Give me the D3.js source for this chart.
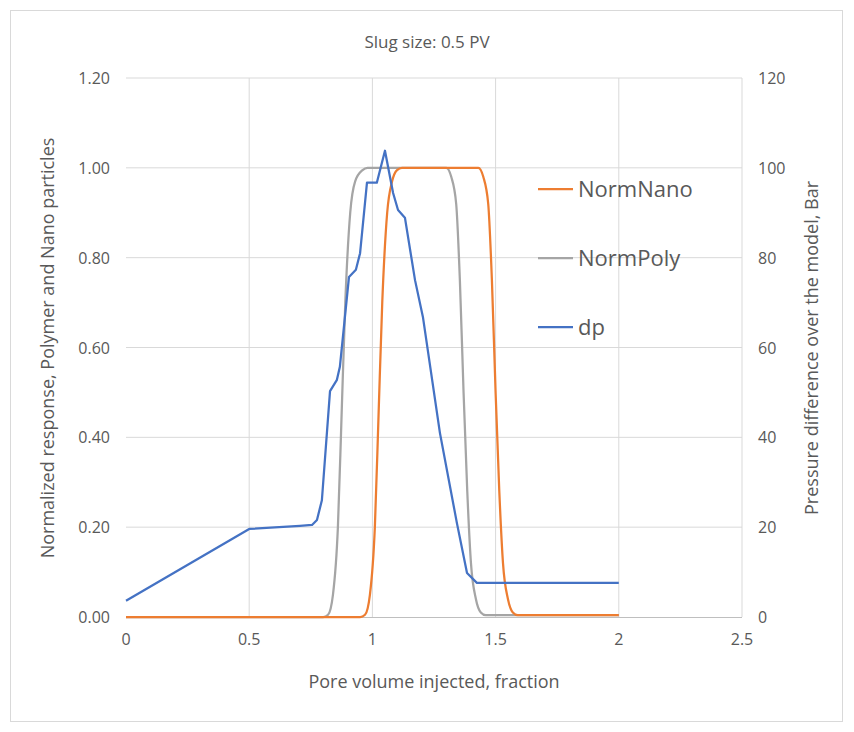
<html>
<head>
<meta charset="utf-8" />
<script src="https://d3js.org/d3.v7.min.js"></script>
</head>
<body style="margin:0;background:#fff">
<svg width="854" height="732" font-family="'Open Sans', sans-serif"></svg>
<script>
// data
var polyX = [0, 0.8, 0.82, 0.84, 0.86, 0.875, 0.89, 0.91, 0.93, 0.96, 0.98, 1.3, 1.32, 1.34, 1.355, 1.37, 1.385, 1.4, 1.42, 1.44, 1.46, 2.0];
var polyY = [0, 0, 0.005, 0.05, 0.2, 0.45, 0.7, 0.9, 0.97, 0.995, 1, 1, 0.98, 0.92, 0.75, 0.5, 0.28, 0.12, 0.04, 0.01, 0.004, 0.004];
var nanoX = [0, 0.95, 0.97, 0.99, 1.01, 1.025, 1.04, 1.06, 1.08, 1.1, 1.12, 1.43, 1.45, 1.47, 1.485, 1.5, 1.515, 1.53, 1.55, 1.57, 1.59, 2.0];
var nanoY = [0, 0, 0.005, 0.05, 0.2, 0.45, 0.7, 0.9, 0.97, 0.995, 1, 1, 0.98, 0.92, 0.75, 0.5, 0.28, 0.12, 0.04, 0.01, 0.004, 0.004];
var dpX = [0, 0.5, 0.706, 0.755, 0.775, 0.795, 0.828, 0.856, 0.868, 0.905, 0.933, 0.95, 0.978, 1.018, 1.051, 1.084, 1.104, 1.132, 1.173, 1.205, 1.274, 1.343, 1.384, 1.424, 2.0];
var dpY = [3.6, 19.6, 20.3, 20.5, 21.6, 26, 50.3, 52.8, 55.7, 75.7, 77.3, 81, 96.7, 96.7, 103.8, 94.4, 90.6, 88.9, 75, 66.8, 41, 20.9, 9.8, 7.6, 7.6];
var xTicks = [0, 0.5, 1, 1.5, 2, 2.5];
var yTicks = [0, 0.2, 0.4, 0.6, 0.8, 1.0, 1.2];
var y2Ticks = [0, 20, 40, 60, 80, 100, 120];

var svg = d3.select("svg");
var grey = "#595959";

svg.append("rect").attr("x", 10.5).attr("y", 10.5).attr("width", 832).attr("height", 711)
  .attr("fill", "none").attr("stroke", "#d9d9d9");

var x = d3.scaleLinear().domain([0, 2.5]).range([126, 742]);
var y = d3.scaleLinear().domain([0, 1.2]).range([617, 78]);
var y2 = d3.scaleLinear().domain([0, 120]).range([617, 78]);

// grid
svg.append("g").selectAll("line").data(yTicks.slice(1)).enter().append("line")
  .attr("x1", 126).attr("x2", 742).attr("y1", function(d) { return y(d) }).attr("y2", function(d) { return y(d) })
  .attr("stroke", "#d9d9d9");
svg.append("g").selectAll("line").data(xTicks.slice(1)).enter().append("line")
  .attr("y1", 78).attr("y2", 617).attr("x1", function(d) { return x(d) }).attr("x2", function(d) { return x(d) })
  .attr("stroke", "#d9d9d9");
svg.append("line").attr("x1", 126).attr("x2", 742).attr("y1", 617.5).attr("y2", 617.5).attr("stroke", "#bfbfbf");

// tick labels
svg.append("g").selectAll("text").data(xTicks).enter().append("text")
  .attr("x", function(d) { return x(d) }).attr("y", 645).attr("text-anchor", "middle")
  .attr("font-size", 16).attr("fill", grey).text(function(d) { return d });
svg.append("g").selectAll("text").data(yTicks).enter().append("text")
  .attr("x", 110).attr("y", function(d) { return y(d) + 6 }).attr("text-anchor", "end")
  .attr("font-size", 16).attr("fill", grey).text(function(d) { return d.toFixed(2) });
svg.append("g").selectAll("text").data(y2Ticks).enter().append("text")
  .attr("x", 758).attr("y", function(d) { return y2(d) + 6 }).attr("text-anchor", "start")
  .attr("font-size", 16).attr("fill", grey).text(function(d) { return d });

// titles
svg.append("text").attr("x", 427).attr("y", 48).attr("text-anchor", "middle")
  .attr("font-size", 17).attr("fill", grey).text("Slug size: 0.5 PV");
svg.append("text").attr("x", 434).attr("y", 688).attr("text-anchor", "middle")
  .attr("font-size", 18).attr("fill", grey).text("Pore volume injected, fraction");
svg.append("text").attr("transform", "translate(54,348) rotate(-90)").attr("text-anchor", "middle")
  .attr("font-size", 18).attr("fill", grey).text("Normalized response, Polymer and Nano particles");
svg.append("text").attr("transform", "translate(818,348) rotate(-90)").attr("text-anchor", "middle")
  .attr("font-size", 18).attr("fill", grey).text("Pressure difference over the model, Bar");

// lines
function draw(xs, ys, sy, color, curve) {
  var pts = xs.map(function(v, i) { return [v, ys[i]] });
  svg.append("path").datum(pts)
    .attr("d", d3.line().x(function(d) { return x(d[0]) }).y(function(d) { return sy(d[1]) }).curve(curve))
    .attr("fill", "none").attr("stroke", color).attr("stroke-width", 2.25).attr("stroke-linejoin", "round");
}
draw(polyX, polyY, y, "#a5a5a5", d3.curveMonotoneX);
draw(nanoX, nanoY, y, "#ed7d31", d3.curveMonotoneX);
draw(dpX, dpY, y2, "#4472c4", d3.curveLinear);

// legend
var legend = [["NormNano", "#ed7d31"], ["NormPoly", "#a5a5a5"], ["dp", "#4472c4"]];
var lg = svg.append("g").selectAll("g").data(legend).enter().append("g")
  .attr("transform", function(d, i) { return "translate(538," + (189 + i * 69) + ")" });
lg.append("line").attr("x1", 0).attr("x2", 35).attr("stroke", function(d) { return d[1] }).attr("stroke-width", 2.25);
lg.append("text").attr("x", 40).attr("y", 8).attr("font-size", 22).attr("fill", grey).text(function(d) { return d[0] });
</script>
</body>
</html>
